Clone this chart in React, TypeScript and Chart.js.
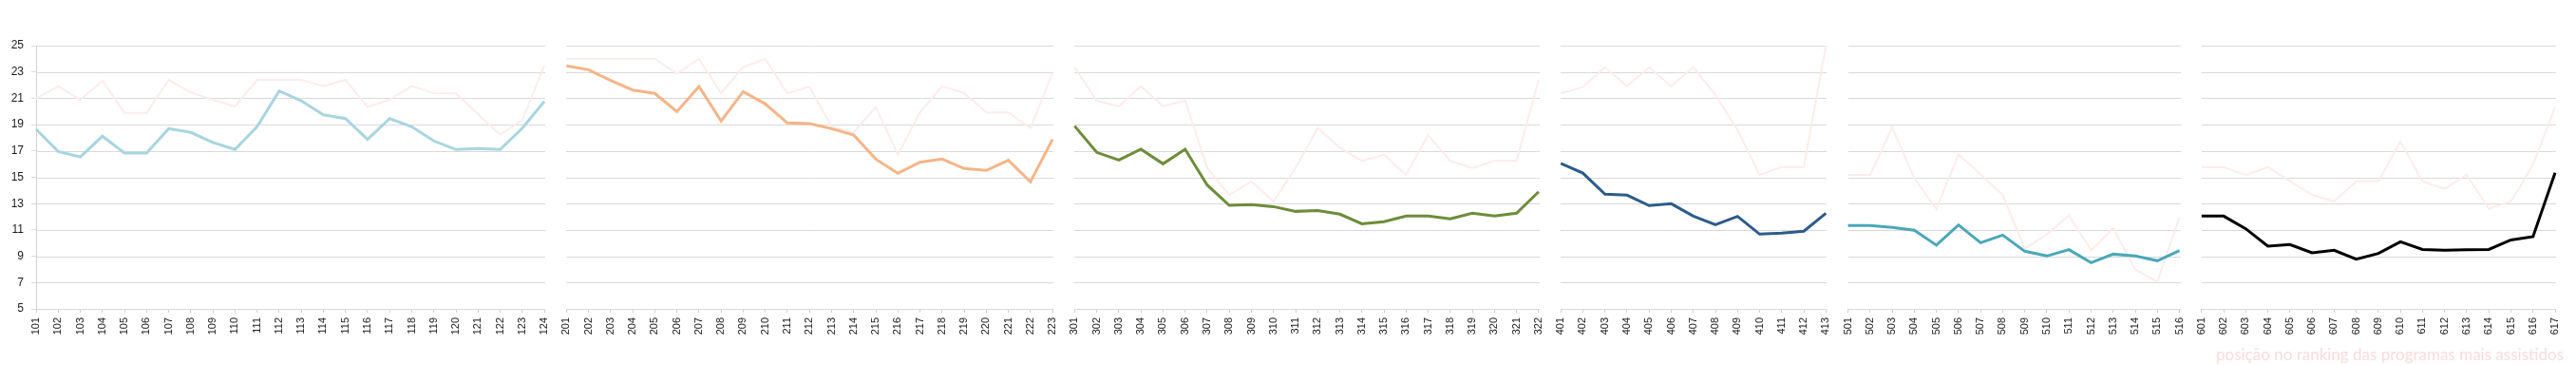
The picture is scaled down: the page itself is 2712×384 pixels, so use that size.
import React, { useEffect, useRef, useState } from "react";
import { Chart, registerables } from "chart.js";

Chart.register(...registerables);

// ---- tick labels (categories) per panel ----
const labels1 = ["101","102","103","104","105","106","107","108","109","110","111","112","113","114","115","116","117","118","119","120","121","122","123","124"];
const labels2 = ["201","202","203","204","205","206","207","208","209","210","211","212","213","214","215","216","217","218","219","220","221","222","223"];
const labels3 = ["301","302","303","304","305","306","307","308","309","310","311","312","313","314","315","316","317","318","319","320","321","322"];
const labels4 = ["401","402","403","404","405","406","407","408","409","410","411","412","413"];
const labels5 = ["501","502","503","504","505","506","507","508","509","510","511","512","513","514","515","516"];
const labels6 = ["601","602","603","604","605","606","607","608","609","610","611","612","613","614","615","616","617"];

// ---- main series (audience) ----
const audience1 = [18.65,16.96,16.55,18.12,16.84,16.84,18.69,18.41,17.64,17.11,18.84,21.56,20.81,19.75,19.46,17.88,19.46,18.84,17.76,17.11,17.18,17.11,18.72,20.76];
const audience2 = [23.46,23.17,22.35,21.63,21.37,19.99,21.9,19.27,21.51,20.57,19.13,19.08,18.69,18.21,16.38,15.3,16.14,16.38,15.66,15.52,16.29,14.65,17.88];
const audience3 = [18.89,16.89,16.31,17.13,16.02,17.13,14.41,12.87,12.92,12.77,12.41,12.48,12.2,11.47,11.62,12.05,12.05,11.84,12.27,12.05,12.27,13.9];
const audience4 = [16.05,15.32,13.71,13.64,12.85,12.99,12.05,11.4,12.03,10.68,10.75,10.9,12.27];
const audience5 = [11.33,11.33,11.19,10.97,9.84,11.38,10.03,10.61,9.38,9.02,9.5,8.51,9.16,9.02,8.66,9.43];
const audience6 = [12.05,12.05,11.09,9.77,9.89,9.26,9.45,8.78,9.21,10.1,9.52,9.45,9.5,9.52,10.24,10.49,15.35];

// ---- faint series (ranking position) ----
const ranking1 = [20.96,21.92,20.86,22.35,19.9,19.9,22.4,21.44,20.88,20.38,22.4,22.4,22.4,21.92,22.4,20.33,20.9,21.92,21.39,21.37,19.8,18.24,19.32,23.5];
const ranking2 = [23.99,23.99,23.99,23.99,23.99,22.88,23.99,21.39,23.36,23.99,21.37,21.87,18.84,18.41,20.33,16.72,19.92,21.92,21.39,19.92,19.92,18.74,22.93];
const ranking3 = [23.36,20.81,20.38,21.92,20.38,20.81,15.71,13.66,14.67,13.16,15.71,18.74,17.25,16.24,16.72,15.18,18.21,16.24,15.71,16.24,16.24,22.4];
const ranking4 = [21.37,21.85,23.36,21.92,23.36,21.92,23.36,21.25,18.6,15.18,15.78,15.78,24.98];
const ranking5 = [15.18,15.18,18.79,14.94,12.58,16.74,15.22,13.66,9.57,10.66,12.1,9.45,11.14,8.0,7.05,11.98];
const ranking6 = [15.76,15.76,15.18,15.76,14.7,13.66,13.16,14.7,14.7,17.73,14.7,14.12,15.18,12.63,13.16,15.95,20.33];

const panelColors = ["#a9d5df", "#f4b587", "#6e8c3b", "#2e5b8a", "#4ba7b9", "#000000"];
const faintColor = "#fcecec";
const yTicks = [5, 7, 9, 11, 13, 15, 17, 19, 21, 23, 25];
const noteText = "posição no ranking das programas mais assistidos";

const panelLabels = [labels1, labels2, labels3, labels4, labels5, labels6];
const panelAudience = [audience1, audience2, audience3, audience4, audience5, audience6];
const panelRanking = [ranking1, ranking2, ranking3, ranking4, ranking5, ranking6];

const NOTE_FONT = "Lato, 'Noto Sans', sans-serif";
const NOTE_WIDTH = 366;

function fitNoteSize(): number {
  try {
    const c = document.createElement("canvas").getContext("2d");
    if (!c) return 17;
    c.font = `100px ${NOTE_FONT}`;
    const w = c.measureText(noteText).width;
    return (100 * NOTE_WIDTH) / w;
  } catch {
    return 17;
  }
}

export default function App() {
  const ref = useRef<HTMLCanvasElement | null>(null);
  const [noteSize] = useState(() => fitNoteSize());

  useEffect(() => {
    if (!ref.current) return;
    const categories: string[] = [];
    const ranges: { start: number; end: number }[] = [];
    panelLabels.forEach((l) => {
      const start = categories.length;
      categories.push(...l);
      ranges.push({ start, end: categories.length - 1 });
    });
    const total = categories.length;

    const datasets: any[] = [];
    panelLabels.forEach((_, p) => {
      const { start } = ranges[p];
      const a: (number | null)[] = new Array(total).fill(null);
      const r: (number | null)[] = new Array(total).fill(null);
      panelAudience[p].forEach((v, i) => (a[start + i] = v));
      panelRanking[p].forEach((v, i) => (r[start + i] = v));
      datasets.push({
        label: "ranking " + (p + 1),
        data: r,
        borderColor: faintColor,
        borderWidth: 2,
        pointRadius: 0,
        tension: 0,
        order: 2,
      });
      datasets.push({
        label: "audiência " + (p + 1),
        data: a,
        borderColor: panelColors[p],
        borderWidth: 3,
        pointRadius: 0,
        tension: 0,
        borderJoinStyle: "miter",
        order: 1,
      });
    });

    const panelGrid = {
      id: "panelGrid",
      beforeDatasetsDraw(chart: any) {
        const { ctx } = chart;
        const xs = chart.scales.x;
        const ys = chart.scales.y;
        ctx.save();
        ctx.strokeStyle = "#d9d9d9";
        ctx.lineWidth = 1;
        ranges.forEach(({ start, end }) => {
          const x0 = Math.round(xs.getPixelForValue(start));
          const x1 = Math.round(xs.getPixelForValue(end));
          yTicks.forEach((t) => {
            const y = Math.round(ys.getPixelForValue(t)) + 0.5;
            ctx.beginPath();
            ctx.moveTo(x0, y);
            ctx.lineTo(x1 + 1, y);
            ctx.stroke();
          });
        });
        ctx.restore();
      },
    };

    const chart = new Chart(ref.current, {
      type: "line",
      data: { labels: categories, datasets },
      options: {
        animation: false,
        responsive: true,
        maintainAspectRatio: false,
        layout: { padding: { left: 0, right: 22, top: 48, bottom: 0 } },
        plugins: { legend: { display: false }, tooltip: { enabled: false } },
        scales: {
          x: {
            type: "category",
            offset: false,
            border: { display: false },
            grid: {
              display: true,
              drawOnChartArea: false,
              drawTicks: true,
              tickLength: 4,
              color: "#d0d0d0",
            },
            ticks: {
              autoSkip: false,
              maxRotation: 90,
              minRotation: 90,
              padding: 5,
              color: "#1a1a1a",
              font: { family: "'Liberation Sans', Arial, sans-serif", size: 11 },
            },
            afterFit(scale: any) {
              scale.height = 59;
            },
          },
          y: {
            min: 5,
            max: 25,
            border: { display: true, color: "#d0d0d0" },
            grid: {
              display: true,
              drawOnChartArea: false,
              drawTicks: true,
              tickLength: 5,
              color: "#d9d9d9",
            },
            ticks: {
              stepSize: 2,
              padding: 8,
              color: "#1a1a1a",
              font: { family: "'Liberation Sans', Arial, sans-serif", size: 12 },
            },
            afterFit(scale: any) {
              scale.width = 38;
            },
          },
        },
      },
      plugins: [panelGrid],
    });
    return () => chart.destroy();
  }, []);

  return (
    <div style={{ position: "fixed", left: 0, top: 0, width: 2712, height: 384, background: "#fff", overflow: "hidden" }}>
      <canvas ref={ref} />
      <div
        style={{
          position: "absolute",
          left: 2333,
          top: 377,
          fontFamily: NOTE_FONT,
          fontSize: noteSize,
          lineHeight: 0,
          color: "#f9dcdc",
          whiteSpace: "nowrap",
        }}
      >
        <span style={{ display: "inline-block", transform: "translateY(-0.78em)", lineHeight: "1em" }}>{noteText}</span>
      </div>
    </div>
  );
}
